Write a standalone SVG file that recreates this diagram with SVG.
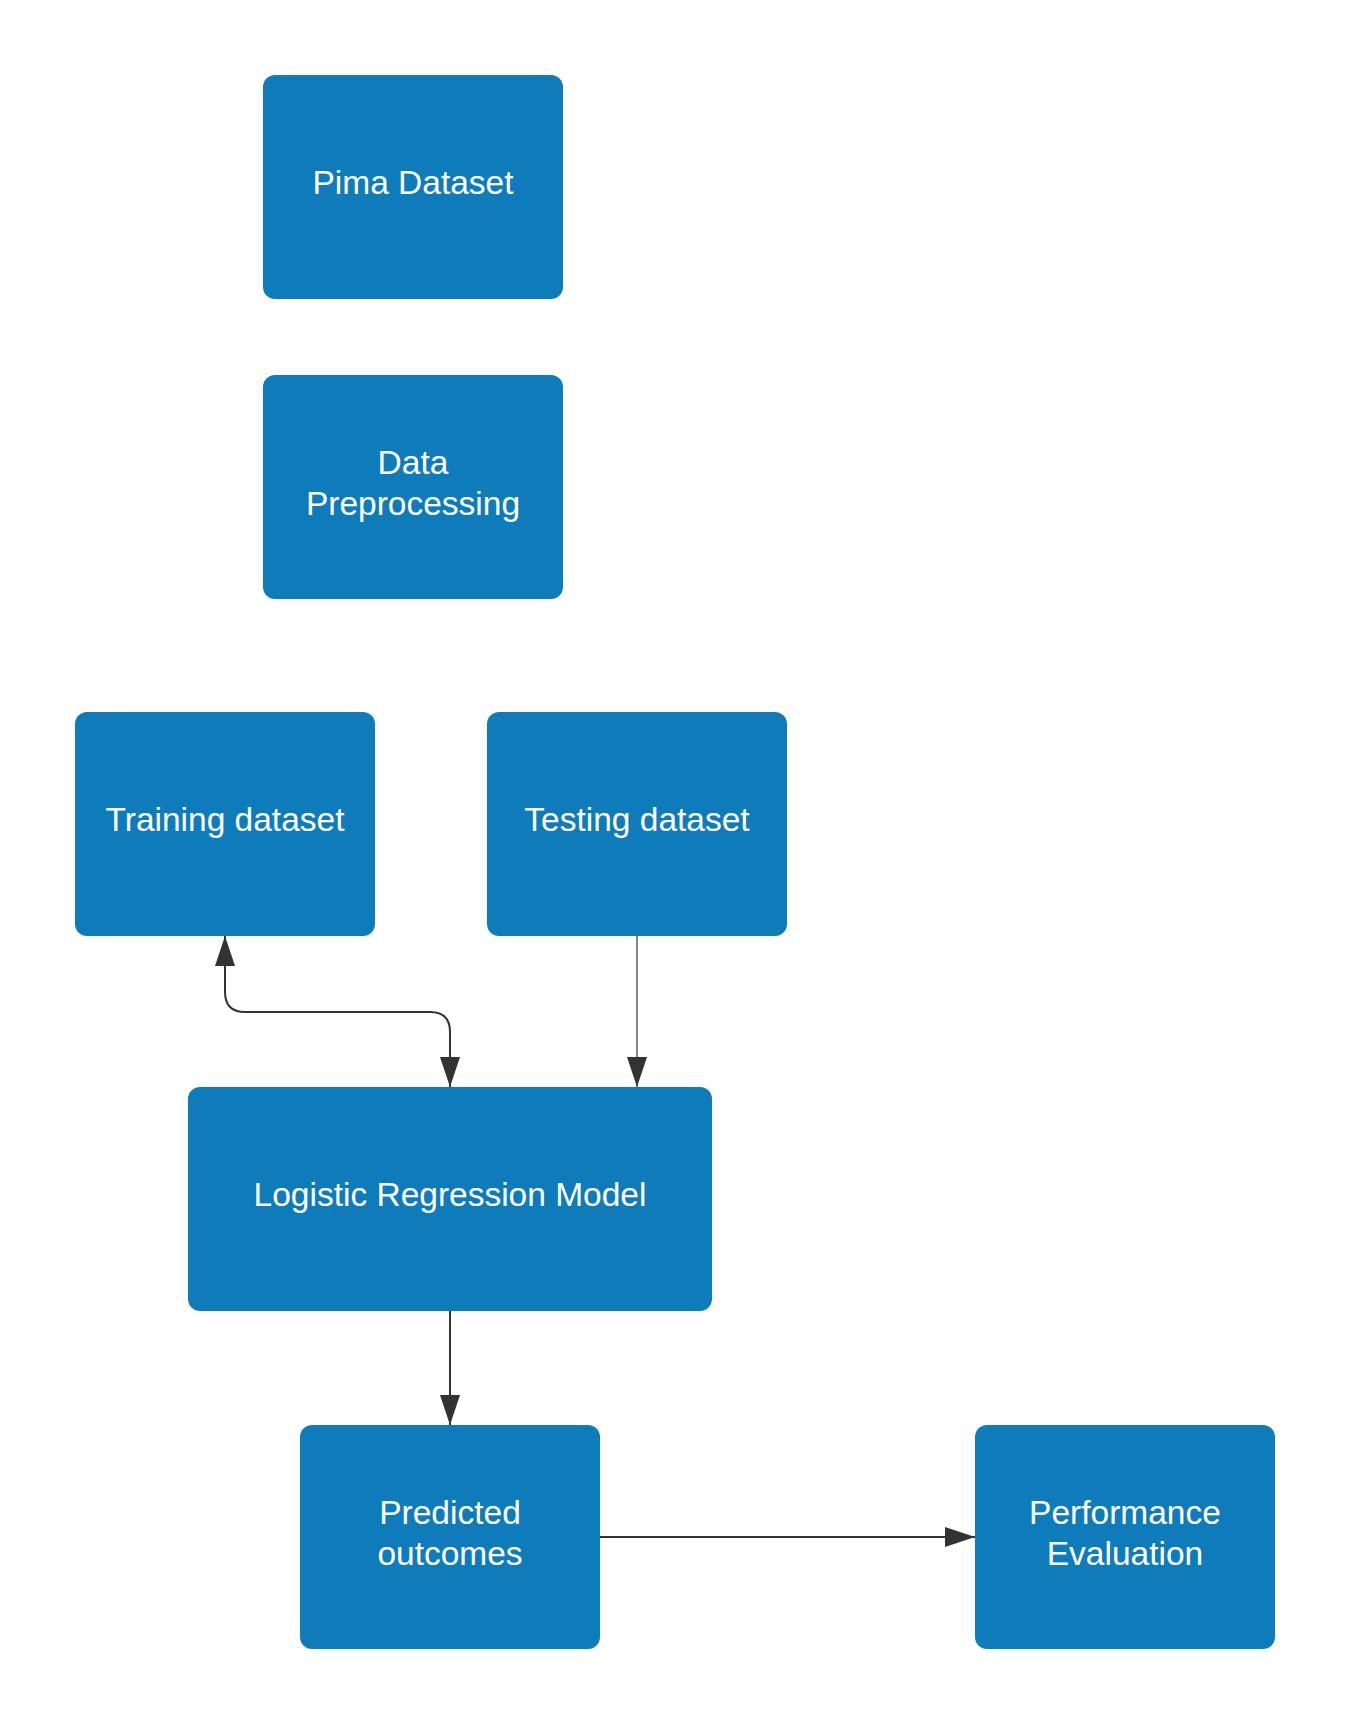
<svg xmlns="http://www.w3.org/2000/svg" width="1350" height="1725" viewBox="0 0 1350 1725">
<style>
.box{fill:#0e7cba}
.lbl{fill:#ffffff;font-family:"Liberation Sans",Arial,sans-serif;font-size:33.5px;text-anchor:middle}
.ln{fill:none;stroke:#333333;stroke-width:2}
.thin{stroke-width:1.2}
</style>
<defs>
<marker id="ah" markerUnits="userSpaceOnUse" markerWidth="30" markerHeight="20" refX="30" refY="10" orient="auto-start-reverse" viewBox="0 0 30 20">
<path d="M0,0 L30,10 L0,20 z" fill="#333333"/>
</marker>
</defs>
<rect width="1350" height="1725" fill="#ffffff"/>
<g id="pima">
<rect class="box" x="263" y="75" width="300" height="224" rx="12"/>
<text class="lbl" x="413" y="194">Pima Dataset</text>
</g>
<g id="preprocessing">
<rect class="box" x="263" y="375" width="300" height="224" rx="12"/>
<text class="lbl" x="413" y="474">Data</text>
<text class="lbl" x="413" y="515">Preprocessing</text>
</g>
<g id="training">
<rect class="box" x="75" y="712" width="300" height="224" rx="12"/>
<text class="lbl" x="225" y="831">Training dataset</text>
</g>
<g id="testing">
<rect class="box" x="487" y="712" width="300" height="224" rx="12"/>
<text class="lbl" x="637" y="831">Testing dataset</text>
</g>
<g id="model">
<rect class="box" x="188" y="1087" width="524" height="224" rx="12"/>
<text class="lbl" x="450" y="1206">Logistic Regression Model</text>
</g>
<g id="predicted">
<rect class="box" x="300" y="1425" width="300" height="224" rx="12"/>
<text class="lbl" x="450" y="1524">Predicted</text>
<text class="lbl" x="450" y="1565">outcomes</text>
</g>
<g id="performance">
<rect class="box" x="975" y="1425" width="300" height="224" rx="12"/>
<text class="lbl" x="1125" y="1524">Performance</text>
<text class="lbl" x="1125" y="1565">Evaluation</text>
</g>
<g id="connectors">
<path class="ln" d="M225,936 V992 Q225,1012 245,1012 H430 Q450,1012 450,1032 V1087" marker-start="url(#ah)" marker-end="url(#ah)"/>
<path class="ln thin" d="M637,936 V1087" marker-end="url(#ah)"/>
<path class="ln" d="M450,1311 V1425" marker-end="url(#ah)"/>
<path class="ln" d="M600,1537 H975" marker-end="url(#ah)"/>
</g>
</svg>
